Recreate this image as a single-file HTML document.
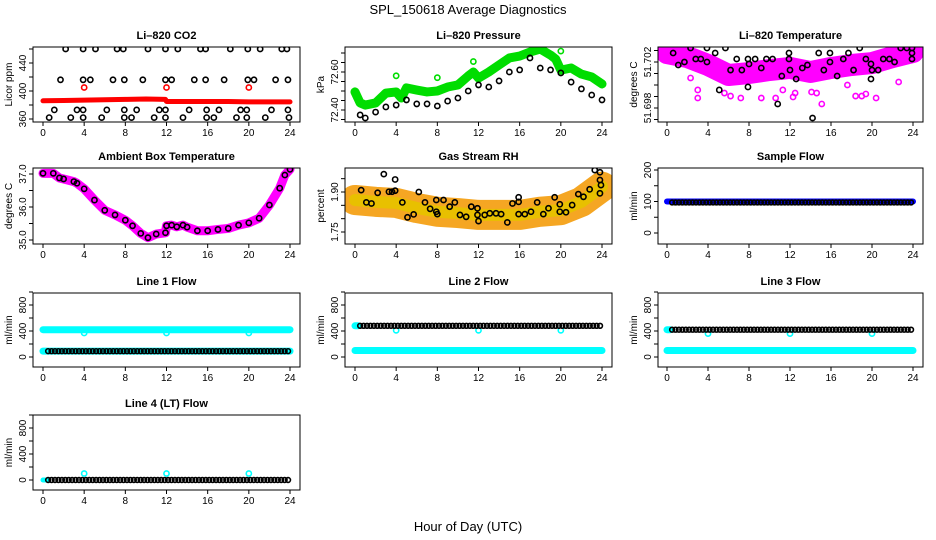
<!DOCTYPE html>
<html><head><meta charset="utf-8">
<style>
html,body{margin:0;padding:0;background:#fff;}
svg{display:block;font-family:"Liberation Sans",sans-serif;}
</style></head>
<body>
<svg id="c" width="936" height="540" viewBox="0 0 936 540" xmlns="http://www.w3.org/2000/svg">
<text x="468" y="14" font-size="13" text-anchor="middle">SPL_150618  Average Diagnostics</text>
<text x="468" y="531" font-size="13" text-anchor="middle">Hour of Day (UTC)</text>
</svg>
<script>
// ---------- data ----------
const hourTicks = [0,4,8,12,16,20,24];
// CO2
const co2LineH = [0,2,4,6,8,10,11.9,12,14,16,18,20,22,24];
const co2LineV = [386,386.5,387,387.5,388,388.5,388,385,385,385,385,384.5,384.5,384.5];
const co2BlkH = [2.2,3.9,5.1,7.2,7.8,10.2,11.9,13.1,15.3,15.8,18.2,19.9,21.1,23.2,23.7, 1.7,3.9,4.6,6.8,7.9,9.7,11.9,12.5,14.7,15.8,17.6,19.9,20.5,22.6,23.8, 1.1,3.3,3.9,6.2,7.9,9.1,11.3,11.9,14.2,15.9,17.1,19.2,19.8,22.2,23.8, 0.6,2.7,3.9,5.7,7.9,8.6,10.8,11.9,13.6,15.9,16.6,18.8,19.8,21.6,23.9];
const co2BlkV = [460,460,460,460,460,460,460,460,460,460,460,460,460,460,460, 416,416,416,416,416,416,416,416,416,416,416,416,416,416,416, 373,373,373,373,373,373,373,373,373,373,373,373,373,373,373, 362,362,362,362,362,362,362,362,362,362,362,362,362,362,362];
const co2RedH = [4,12,20];
const co2RedV = [405,405,405];
// Pressure
const presGrnH = [0,0.5,1,2,3,4,4.5,5,6,7,8,9,10,11,11.5,12,13,14,15,16,17,18,19,19.5,20,21,22,23,24];
const presGrnV = [72.495,72.437,72.426,72.437,72.489,72.495,72.463,72.516,72.505,72.495,72.50,72.521,72.532,72.579,72.60,72.568,72.60,72.637,72.674,72.684,72.705,72.721,72.689,72.668,72.61,72.621,72.589,72.574,72.537];
const presBlkH = [0.5,1,2,3,4,5,6,7,8,9,10,11,12,13,14,15,16,17,18,19,20,21,22,23,24];
const presBlkV = [72.374,72.358,72.389,72.416,72.426,72.453,72.432,72.432,72.421,72.447,72.463,72.50,72.532,72.521,72.553,72.60,72.611,72.674,72.621,72.611,72.595,72.547,72.511,72.479,72.453];
const presOutH = [4,8,11.5,20];
const presOutV = [72.58,72.57,72.655,72.71];
// Li-820 temperature
const tmpBandH = [0,2,4,6,8,10,12,14,16,18,20,22,24];
const tmpBandV = [51.70278,51.70243,51.70174,51.70087,51.70104,51.7013,51.70148,51.70113,51.70148,51.70174,51.70191,51.70243,51.70287];
const tmpMagH = [2.3,3.0,3.0,5.6,6.2,7.2,9.2,10.6,11.3,12.3,12.5,14.1,14.6,15.1,17.6,18.4,19,19.4,20.4,22.6,4.9];
const tmpMagV = [51.70061,51.69957,51.69887,51.6993,51.69904,51.69887,51.69887,51.69887,51.69957,51.69896,51.6993,51.69939,51.6993,51.69835,51.7,51.69904,51.69904,51.69922,51.69887,51.70026,51.70104];
const tmpBlkH = [2.3,3.9,5.7,0.6,1.1,1.7,2.8,3.3,3.9,4.7,5.1,6.2,6.8,7.3,7.9,7.9,8,8.6,9.2,9.7,10.3,10.8,11.2,11.9,11.9,12,12.6,13.2,13.7,14.2,14.8,15.3,15.9,15.9,16.6,17.2,17.7,18.2,18.8,19.4,19.9,19.9,20,20.6,21.1,21.7,22.2,22.8,23.4,23.9,23.9,23.9];
const tmpBlkV = [51.70322,51.70322,51.70322,51.70278,51.70174,51.702,51.70226,51.70226,51.702,51.70278,51.69957,51.7013,51.70226,51.7013,51.70226,51.69983,51.70183,51.70226,51.70148,51.70226,51.70226,51.69835,51.70078,51.70278,51.70226,51.7013,51.70052,51.70148,51.70174,51.69713,51.70278,51.7013,51.70278,51.702,51.70078,51.70226,51.70278,51.7013,51.70322,51.70226,51.70183,51.70052,51.7013,51.7013,51.70226,51.70226,51.702,51.70322,51.70322,51.70322,51.70226,51.70278];
// Ambient box temperature
const ambH = [0,1,1.6,2,3,3.3,4,5,6,7,8,8.7,9.5,10.2,11,11.9,12,12.5,13,13.6,14,15,16,17,18,19,20,21,22,23,23.5,24];
const ambV = [37.02,37.02,36.88,36.85,36.77,36.72,36.55,36.21,35.9,35.76,35.6,35.43,35.2,35.07,35.18,35.22,35.43,35.45,35.4,35.45,35.39,35.28,35.28,35.32,35.35,35.45,35.52,35.66,36.06,36.57,36.97,37.14];
// Gas stream RH
const rhBandH = [0,2,4,6,8,10,12,14,16,18,20,22,24];
const rhBandV = [1.87,1.863,1.859,1.84,1.826,1.821,1.814,1.814,1.814,1.826,1.832,1.863,1.92];
const rhBlkH = [0.6,1.1,1.6,2.2,2.8,3.3,3.6,3.9,3.9,4.6,5.1,5.7,6.2,6.8,7.3,7.9,7.9,8.0,8.6,9.2,9.7,10.2,10.8,11.3,11.9,11.9,12,12.6,13.1,13.7,14.2,14.8,15.3,15.9,15.9,15.9,16.5,17.1,17.7,18.3,18.8,19.4,19.9,19.9,20.5,21.1,21.7,22.2,22.8,23.3,23.8,23.8,23.9,23.8];
const rhBlkV = [1.907,1.861,1.857,1.897,1.967,1.901,1.901,1.947,1.905,1.861,1.805,1.816,1.90,1.861,1.837,1.87,1.826,1.817,1.87,1.845,1.861,1.814,1.807,1.845,1.839,1.814,1.791,1.814,1.82,1.82,1.817,1.786,1.857,1.88,1.863,1.817,1.817,1.826,1.861,1.817,1.839,1.88,1.854,1.826,1.824,1.851,1.892,1.882,1.91,1.982,1.974,1.945,1.926,1.895];
// Flows (level values)
const sampleBlue = 100, sampleBlack = 97;
const line1Cyan = [420,90], line1Black = 90, line1Dip = 370;
const line2Cyan = [100], line2Black = 480, line2Dip = 410, line2Start = 480;
const line3Cyan = [100], line3Black = 420, line3Dip = 360, line3Start = 420;
const line4Black = 0, line4Bump = 100;
const dipHours = [4,12,20];

// ---------- drawing ----------
const svg = document.getElementById('c');
const NS = 'http://www.w3.org/2000/svg';
const cols = [{L:33,R:300,x0:43,x24:290},{L:345,R:612,x0:355,x24:602},{L:658,R:923,x0:667,x24:913}];
const rows = [{T:47,B:122},{T:168,B:244},{T:293,B:367},{T:415,B:490}];
function mk(tag, attrs, parent){const e=document.createElementNS(NS,tag);for(const k in attrs)e.setAttribute(k,attrs[k]);(parent||svg).appendChild(e);return e;}

function panel(name,title,ylab,c,r,v1,y1,v2,y2,ticks,labels,labelTxt,lfs){
  const C=cols[c],R=rows[r];
  const g=mk('g',{});
  
  
  const xs=h=>C.x0+(C.x24-C.x0)*h/24;
  const ys=v=>y1+(v-v1)*(y2-y1)/(v2-v1);
  const clipId='clip'+c+r;
  const cp=mk('clipPath',{id:clipId},g);mk('rect',{x:C.L,y:R.T,width:C.R-C.L,height:R.B-R.T},cp);
  const plot=mk('g',{'clip-path':'url(#'+clipId+')'},g);
  
  
  const box=mk('rect',{x:C.L,y:R.T,width:C.R-C.L,height:R.B-R.T,fill:'none',stroke:'#000','stroke-width':1},g);
  
  
  const t=mk('text',{x:(C.L+C.R)/2,y:R.T-8,'font-size':11,'font-weight':'bold','text-anchor':'middle'},g);
  t.textContent=title;
  
  
  const yl=mk('text',{x:0,y:0,'font-size':10,'text-anchor':'middle',transform:'translate('+(C.L-21)+','+((R.T+R.B)/2)+') rotate(-90)'},g);
  yl.textContent=ylab;
  
  
  hourTicks.forEach(h=>{
    mk('line',{x1:xs(h),x2:xs(h),y1:R.B,y2:R.B+4,stroke:'#000'},g);
    const tl=mk('text',{x:xs(h),y:R.B+14,'font-size':10,'text-anchor':'middle'},g);
    tl.textContent=h;
    
    
  });
  ticks.forEach(v=>{mk('line',{x1:C.L-4,x2:C.L,y1:ys(v),y2:ys(v),stroke:'#000'},g);});
  labels.forEach((v,i)=>{
    const tl=mk('text',{x:0,y:0,'font-size':lfs||10,'text-anchor':'middle',transform:'translate('+(C.L-7)+','+ys(v)+') rotate(-90)'},g);
    tl.textContent=labelTxt[i];
    
    
  });
  return {plot,xs,ys,C,R};
}
function pts(p,H,V,color,name,r,sw){
  H.forEach((h,i)=>{
    const e=mk('circle',{cx:p.xs(h),cy:p.ys(V[i]),r:r||2.6,fill:'none',stroke:color,'stroke-width':sw||1.6},p.plot);
    
    
  });
}
function band(p,H,V,color,w,name){
  const e=mk('polyline',{points:H.map((h,i)=>p.xs(h)+','+p.ys(V[i])).join(' '),fill:'none',stroke:color,'stroke-width':w,'stroke-linejoin':'round','stroke-linecap':'round'},p.plot);
  
  
}
function level(p,v,color,w,name,h0,h1){band(p,[h0===undefined?0:h0,h1===undefined?24:h1],[v,v],color,w,name);}
function levelPts(p,v,color,name,h0){const H=[];for(let h=(h0||0.5);h<=24;h+=0.333)H.push(h);pts(p,H,H.map(()=>v),color,name,2.4,1.6);}

// Panel 1: CO2
let p=panel('co2','Li\u2013820 CO2','Licor ppm',0,0,360,119,440,63,[360,380,400,420,440,460],[360,400,440],['360','400','440']);
band(p,co2LineH,co2LineV,'#ff0000',5,'co2-red-series');
pts(p,co2BlkH,co2BlkV,'#000','co2-black-point');
pts(p,co2RedH,co2RedV,'#ff0000','co2-red-point');
// Panel 2: Pressure
p=panel('pressure','Li\u2013820 Pressure','kPa',1,0,72.40,110,72.60,72,[72.35,72.40,72.45,72.50,72.55,72.60,72.65,72.70],[72.40,72.60],['72.40','72.60']);
band(p,presGrnH,presGrnV,'#00dd00',9,'pressure-green-series');
pts(p,presOutH,presOutV,'#00dd00','pressure-green-outlier');
pts(p,presBlkH,presBlkV,'#000','pressure-black-point');
// Panel 3: Temperature
p=panel('li820-temp','Li\u2013820 Temperature','degrees C',2,0,51.698,108,51.702,62,[51.697,51.698,51.699,51.700,51.701,51.702,51.703],[51.698,51.702],['51.698','51.702'],10);
band(p,tmpBandH,tmpBandV,'#ff00ff',22,'temp-magenta-band');
pts(p,tmpMagH,tmpMagV,'#ff00ff','temp-magenta-point');
pts(p,tmpBlkH,tmpBlkV,'#000','temp-black-point');
// Panel 4: Ambient
p=panel('ambient-temp','Ambient Box Temperature','degrees C',0,1,35,240,37,174,[35,35.5,36,36.5,37],[35,36,37],['35.0','36.0','37.0']);
band(p,ambH,ambV,'#ff00ff',9,'ambient-magenta-series');
pts(p,ambH,ambV,'#000','ambient-black-point');
// Panel 5: RH
p=panel('gas-rh','Gas Stream RH','percent',1,1,1.75,232,1.90,192,[1.75,1.80,1.85,1.90,1.95],[1.75,1.90],['1.75','1.90']);
band(p,rhBandH,rhBandV,'#f5a623',30,'rh-orange-band');
band(p,rhBandH,rhBandV,'#e8c000',12,'rh-yellow-core');
pts(p,rhBlkH,rhBlkV,'#000','rh-black-point');
// Panel 6: Sample flow
p=panel('sample-flow','Sample Flow','ml/min',2,1,0,233,200,170,[0,50,100,150,200],[0,100,200],['0','100','200']);
level(p,sampleBlue,'#0000ff',6,'sample-blue-series');
levelPts(p,sampleBlack,'#000','sample-black-point');
// Flow panels
const ft=[0,200,400,600,800,1000], fl=[0,400,800], flt=['0','400','800'];
p=panel('line1-flow','Line 1 Flow','ml/min',0,2,0,357,800,305,ft,fl,flt);
line1Cyan.forEach(v=>level(p,v,'#00ffff',7,'line1-cyan-series'));
pts(p,dipHours,dipHours.map(()=>line1Dip),'#00ffff','line1-cyan-point');
levelPts(p,line1Black,'#000','line1-black-point');
p=panel('line2-flow','Line 2 Flow','ml/min',1,2,0,357,800,305,ft,fl,flt);
line2Cyan.forEach(v=>level(p,v,'#00ffff',7,'line2-cyan-series'));
level(p,line2Start,'#00ffff',7,'line2-cyan-start',0,0.3);
pts(p,dipHours,dipHours.map(()=>line2Dip),'#00ffff','line2-cyan-point');
levelPts(p,line2Black,'#000','line2-black-point');
p=panel('line3-flow','Line 3 Flow','ml/min',2,2,0,357,800,305,ft,fl,flt);
line3Cyan.forEach(v=>level(p,v,'#00ffff',7,'line3-cyan-series'));
level(p,line3Start,'#00ffff',7,'line3-cyan-start',0,0.3);
pts(p,dipHours,dipHours.map(()=>line3Dip),'#00ffff','line3-cyan-point');
levelPts(p,line3Black,'#000','line3-black-point');
p=panel('line4-flow','Line 4 (LT) Flow','ml/min',0,3,0,480,800,428,ft,fl,flt);
level(p,line4Black,'#00ffff',5,'line4-cyan-series',0,0.4);
pts(p,dipHours,dipHours.map(()=>line4Bump),'#00ffff','line4-cyan-point');
levelPts(p,line4Black,'#000','line4-black-point');
</script>
</body></html>
